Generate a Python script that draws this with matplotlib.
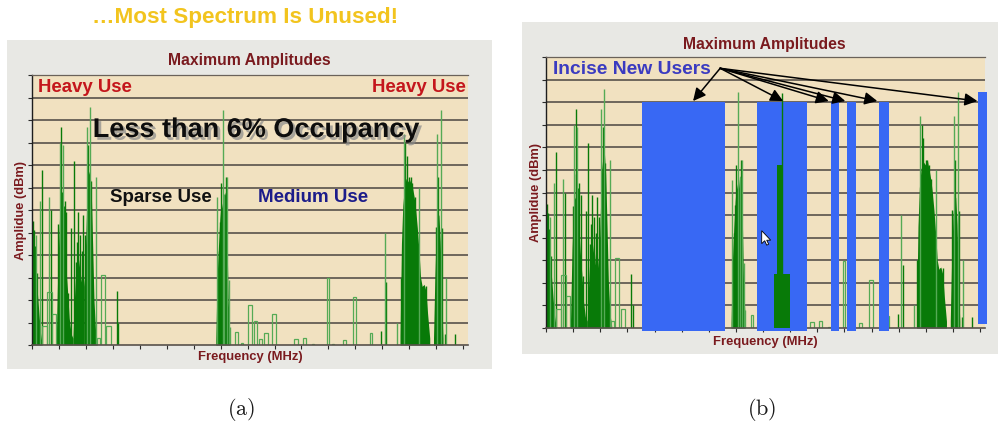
#!/usr/bin/env python3
"""Spectrum occupancy: maximum amplitudes as measured (a), and with new users slotted into the gaps (b)."""
import matplotlib
matplotlib.use('Agg')
import matplotlib.pyplot as plt
import matplotlib.patheffects as pe
from matplotlib.patches import Rectangle, Polygon

# Frequency is in tick units (0..16), amplitude in grid divisions (0..12)

# dense clusters of carriers, given as envelope outlines
dense_f = [
    [0.00, 0.04, 0.08, 0.12, 0.17, 0.22, 0.27, 0.32, 0.38],
    [0.90, 0.96, 1.02, 1.08, 1.14, 1.20, 1.26, 1.32, 1.38, 1.45, 1.52],
    [1.52, 1.58, 1.64, 1.70, 1.76, 1.82, 1.88, 1.94],
    [1.94, 2.00, 2.05, 2.10, 2.15, 2.20, 2.25, 2.30, 2.36, 2.42],
    [6.82, 6.87, 6.92, 6.97, 7.02, 7.08, 7.13, 7.18, 7.23, 7.28, 7.34],
    [13.66, 13.71, 13.76, 13.82, 13.88, 13.94, 14.00, 14.06, 14.12, 14.18,
     14.24, 14.30, 14.36, 14.42, 14.48, 14.55, 14.62, 14.68, 14.76],
    [14.90, 14.95, 15.00, 15.05, 15.10, 15.15, 15.20, 15.25],
]
dense_h = [
    [4.4, 5.0, 4.2, 3.6, 2.8, 2.0, 1.2, 0.5, 0.0],
    [0.2, 3.5, 5.6, 5.8, 5.2, 4.6, 3.4, 2.4, 1.2, 0.5, 0.3],
    [0.3, 2.2, 3.6, 3.2, 3.8, 2.8, 3.4, 2.6],
    [2.6, 5.0, 7.0, 7.6, 7.8, 6.8, 4.5, 2.0, 0.6, 0.1],
    [0.2, 3.0, 4.4, 5.6, 6.4, 6.0, 6.6, 6.8, 5.2, 2.0, 0.4],
    [0.4, 4.5, 6.2, 7.0, 7.4, 7.3, 7.2, 7.4, 7.0, 6.6,
     6.0, 5.2, 4.2, 3.0, 2.6, 2.7, 2.4, 1.4, 0.3],
    [0.3, 3.0, 5.0, 5.6, 5.8, 4.6, 2.2, 0.3],
]

# single carriers, dark green
spike_f = [0.03, 0.08, 0.11, 0.19, 0.38, 0.70, 0.98, 1.09, 1.12, 1.18, 1.23,
           1.28, 1.35, 1.46, 1.56, 1.62, 1.66, 1.71, 1.77, 1.84, 1.89, 1.97,
           2.09, 2.19, 3.14, 3.21,
           6.93, 6.98, 7.01, 7.20,
           12.96, 13.15, 13.68, 13.84, 13.91, 14.00, 14.06, 14.10, 14.20,
           14.51, 14.57, 14.63, 14.98, 15.08, 15.22, 15.32, 15.69]
spike_h = [5.5, 5.1, 4.4, 3.2, 7.8, 6.0, 5.4, 9.7, 6.8, 6.2, 6.4,
           5.9, 2.3, 5.2, 8.2, 3.7, 4.6, 5.9, 4.9, 4.2, 5.8, 4.9,
           8.9, 7.3, 2.4, 1.0,
           4.2, 5.45, 7.2, 7.45,
           0.64, 2.78, 3.0, 9.0, 8.4, 7.45, 7.45, 7.2, 6.6,
           2.64, 2.4, 2.64, 5.23, 7.45, 5.2, 0.49, 0.49]

# single carriers, pale green
pale_f = [0.14, 0.30, 0.63, 1.04, 1.15, 2.03, 2.14, 2.37,
          6.85, 7.08, 7.14, 7.24, 7.30, 7.35,
          13.09, 13.56, 13.79, 14.36, 15.03, 15.17, 15.38]
pale_h = [4.9, 6.4, 6.6, 9.0, 8.9, 9.7, 10.6, 7.45,
          6.56, 10.45, 6.7, 7.45, 2.9, 0.8,
          5.0, 1.0, 9.38, 7.0, 9.38, 10.45, 3.0]

# hollow step segments (wide, low-level channels)
box_lo = [0.37, 0.56, 0.74, 2.40, 2.55, 2.75, 7.54, 7.76, 8.02, 8.23, 8.42,
          8.62, 8.91, 9.74, 10.05, 10.38, 10.93, 11.13, 11.54, 11.91, 12.53]
box_hi = [0.56, 0.74, 0.88, 2.52, 2.70, 2.93, 7.64, 7.82, 8.17, 8.35, 8.53,
          8.74, 9.06, 9.86, 10.16, 10.48, 11.03, 11.20, 11.66, 12.04, 12.63]
box_h = [0.85, 2.35, 1.4, 0.3, 3.1, 0.85, 0.56, 0.1, 1.78, 1.08, 0.27,
         0.55, 1.38, 0.25, 0.3, 0.05, 2.97, 0.05, 0.22, 2.12, 0.55]

# new users placed into the empty bands
new_lo = [3.54, 7.79, 10.52, 11.10, 12.29, 15.94]
new_hi = [6.60, 9.63, 10.81, 11.44, 12.66, 16.27]
new_top = [10.0, 10.0, 10.0, 10.0, 10.0, 10.45]
new_base = [-0.13, -0.13, -0.13, -0.13, -0.13, 0.18]
arrow_tip_f = [5.42, 8.74, 10.42, 11.03, 12.21, 15.90]

# carrier visible inside the second new band
b_block_lo = [8.39, 8.52]
b_block_hi = [9.00, 8.70]
b_block_h = [2.4, 7.2]
b_spike_f = [8.70]
b_spike_h = [10.4]

F_MAX = 16.18
A_MAX = 12

PARCHMENT = '#F1E1C0'
STONE = '#E8E8E4'
GRID = '#58514B'
DARK = '#087A08'
LIGHT = '#55AA55'
BLUE = '#3868F4'
LABEL = '#7A1A1E'
FONT = 'Liberation Sans'

W, H = 998, 427

plt.rcParams['mathtext.fontset'] = 'cm'


def fx(x):
    return x / W


def fy(y):
    return 1 - y / H


def draw_spectrum(ax):
    ax.set_facecolor(PARCHMENT)
    ax.set_xlim(0, F_MAX)
    ax.set_ylim(0, A_MAX)

    for y in range(1, A_MAX):
        ax.axhline(y, color=GRID, lw=1.2, zorder=1)

    for f, h in zip(dense_f, dense_h):
        ax.fill_between(f, h, color=DARK, lw=0, zorder=2)
    ax.vlines(spike_f, 0, spike_h, colors=DARK, lw=1.0, zorder=2)
    ax.vlines(pale_f, 0, pale_h, colors=LIGHT, lw=1.0, zorder=2)
    widths = [hi - lo for lo, hi in zip(box_lo, box_hi)]
    ax.bar(box_lo, box_h, width=widths, align='edge', fill=False,
           edgecolor=LIGHT, lw=0.9, zorder=2)

    ax.set_xticks(range(17))
    ax.set_yticks(range(A_MAX + 1))
    ax.tick_params(direction='out', length=3, width=0.8, color='#2b2b2b',
                   labelbottom=False, labelleft=False)
    ax.spines['left'].set_color('#1e1e1e')
    ax.spines['left'].set_linewidth(1.0)
    ax.spines['bottom'].set_color(GRID)
    ax.spines['bottom'].set_linewidth(1.2)
    ax.spines['top'].set_color('#6a625a')
    ax.spines['top'].set_linewidth(0.9)
    ax.spines['right'].set_visible(False)


def main():
    fig = plt.figure(figsize=(9.98, 4.27), dpi=100)
    fig.patch.set_facecolor('white')

    # stone-grey backing of both screenshots
    for x0, y0, x1, y1 in [(7, 41, 492, 370), (522, 23, 998, 355)]:
        fig.patches.append(Rectangle((fx(x0), fy(y1)), fx(x1 - x0), (y1 - y0) / H,
                                     transform=fig.transFigure, facecolor=STONE,
                                     edgecolor='none', zorder=-1))

    ax_a = fig.add_axes([fx(32), fy(346), fx(436), 270 / H])
    ax_b = fig.add_axes([fx(546), fy(329), fx(439), 271 / H])
    draw_spectrum(ax_a)
    draw_spectrum(ax_b)

    # panel (a) annotations
    fig.text(fx(245), fy(18), '\u2026Most Spectrum Is Unused!', ha='center', va='center',
             fontsize=16.2, fontweight='bold', color='#F2C41E', family=FONT)
    fig.text(fx(249), fy(61), 'Maximum Amplitudes', ha='center', va='center',
             fontsize=11.3, fontweight='bold', color=LABEL, family=FONT)
    fig.text(fx(250), fy(357), 'Frequency (MHz)', ha='center', va='center',
             fontsize=9.4, fontweight='bold', color=LABEL, family=FONT)
    fig.text(fx(21), fy(210), 'Amplidue (dBm)', ha='center', va='center', rotation=90,
             fontsize=9.3, fontweight='bold', color=LABEL, family=FONT)
    fig.text(fx(38), fy(87), 'Heavy Use', ha='left', va='center',
             fontsize=13.4, fontweight='bold', color='#C4161C', family=FONT)
    fig.text(fx(466), fy(87), 'Heavy Use', ha='right', va='center',
             fontsize=13.4, fontweight='bold', color='#C4161C', family=FONT)
    fig.text(fx(256), fy(131), 'Less than 6% Occupancy', ha='center', va='center',
             fontsize=19.5, fontweight='bold', color='#0d0d0d', family=FONT,
             path_effects=[pe.SimplePatchShadow(offset=(2, -2), shadow_rgbFace='#8a8a8a',
                                                alpha=0.7), pe.Normal()])
    fig.text(fx(161), fy(197), 'Sparse Use', ha='center', va='center',
             fontsize=13.5, fontweight='bold', color='#111111', family=FONT)
    fig.text(fx(313), fy(197), 'Medium Use', ha='center', va='center',
             fontsize=13.5, fontweight='bold', color='#1C1C8A', family=FONT)

    # panel (b): new users on top of the measured spectrum
    for lo, hi, top, base in zip(new_lo, new_hi, new_top, new_base):
        ax_b.add_patch(Rectangle((lo, base), hi - lo, top - base, facecolor=BLUE,
                                 edgecolor='none', zorder=3, clip_on=False))
    block_w = [hi - lo for lo, hi in zip(b_block_lo, b_block_hi)]
    ax_b.bar(b_block_lo, b_block_h, width=block_w, align='edge', color=DARK,
             lw=0, zorder=4)
    ax_b.vlines(b_spike_f, 0, b_spike_h, colors=DARK, lw=1.0, zorder=4)

    for tip in arrow_tip_f:
        ax_b.annotate('', xy=(tip, 10.05), xytext=(6.42, 11.5),
                      arrowprops=dict(arrowstyle='-|>', color='black', lw=1.1,
                                      mutation_scale=19, shrinkA=0, shrinkB=0),
                      annotation_clip=False, zorder=5)

    fig.text(fx(764), fy(44), 'Maximum Amplitudes', ha='center', va='center',
             fontsize=11.3, fontweight='bold', color=LABEL, family=FONT)
    fig.text(fx(765), fy(342), 'Frequency (MHz)', ha='center', va='center',
             fontsize=9.4, fontweight='bold', color=LABEL, family=FONT)
    fig.text(fx(536), fy(193), 'Amplidue (dBm)', ha='center', va='center', rotation=90,
             fontsize=9.3, fontweight='bold', color=LABEL, family=FONT)
    fig.text(fx(553), fy(70), 'Incise New Users', ha='left', va='center',
             fontsize=13.9, fontweight='bold', color='#3B3BC0', family=FONT)

    # mouse pointer left on the screenshot
    tip_x, tip_y = 761.7, 231.7
    shape = [(0, 0), (0, 13), (3, 10), (5, 14.5), (7, 13.5), (5, 9.5), (9, 9.5)]
    pts = [((tip_x + dx) / 100, (H - tip_y - dy) / 100) for dx, dy in shape]
    fig.patches.append(Polygon(pts, closed=True, transform=fig.dpi_scale_trans,
                               facecolor='white', edgecolor='black', lw=0.6, zorder=6))

    # sub-figure captions
    fig.text(fx(241), fy(410), r'$\mathrm{(a)}$', ha='center', va='center',
             fontsize=16, color='#1a1a1a')
    fig.text(fx(762), fy(410), r'$\mathrm{(b)}$', ha='center', va='center',
             fontsize=16, color='#1a1a1a')

    fig.savefig('out.png', dpi=100, facecolor='white')
    plt.close(fig)


if __name__ == "__main__":
    main()
